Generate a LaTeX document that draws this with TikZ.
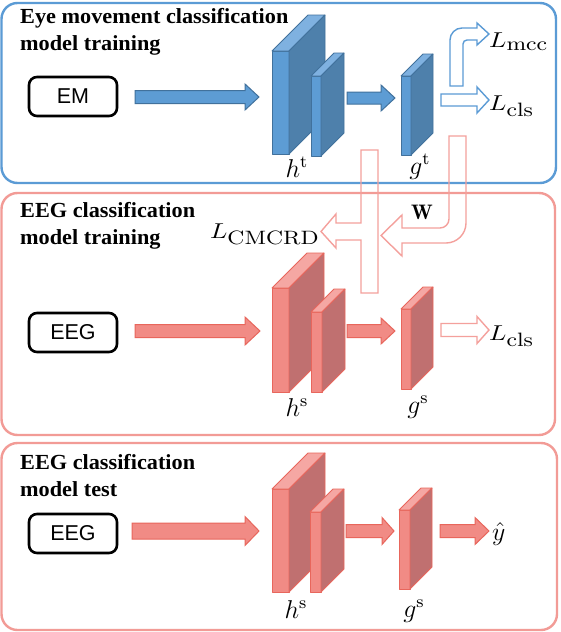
\documentclass[tikz,border=0pt]{standalone}
\usepackage{fontspec}
\usepackage{graphicx}
\newfontfamily\ttlfont{Liberation Serif}
\newfontfamily\boxfont{Liberation Sans}
\DeclareMathSizes{10}{10}{9}{7}
\DeclareMathSizes{12}{12}{8}{6}
\definecolor{bpanel}{RGB}{91,155,213}
\definecolor{ppanel}{RGB}{242,155,150}
\definecolor{bfront}{RGB}{93,156,212}
\definecolor{bside}{RGB}{78,128,171}
\definecolor{btop}{RGB}{127,177,224}
\definecolor{bedge}{RGB}{65,113,156}
\definecolor{pfront}{RGB}{241,139,133}
\definecolor{pside}{RGB}{192,112,112}
\definecolor{ptop}{RGB}{245,167,163}
\definecolor{pedge}{RGB}{232,102,92}
\definecolor{poutl}{RGB}{244,160,156}
\newcommand\cuboid[6]{%
  \draw[#1edge, fill=#1front, line width=0.8pt, line join=round] (#2,#4) rectangle (#3,#5);
  \draw[#1edge, fill=#1top, line width=0.8pt, line join=round] (#2,#4) -- ({#2+#6},{#4-#6}) -- ({#3+#6},{#4-#6}) -- (#3,#4) -- cycle;
  \draw[#1edge, fill=#1side, line width=0.8pt, line join=round] (#3,#4) -- ({#3+#6},{#4-#6}) -- ({#3+#6},{#5-#6}) -- (#3,#5) -- cycle;}
\newcommand\blkarrow[7]{%
  \draw[#1] (#2,{#5-#6}) -- (#3,{#5-#6}) -- (#3,{#5-#7}) -- (#4,#5) -- (#3,{#5+#7}) -- (#3,{#5+#6}) -- (#2,{#5+#6}) -- cycle;}
\newcommand\Lbl[1]{\scalebox{2.55}[2.15]{$#1$}}
\newcommand\Hbl[1]{\scalebox{2.15}{$#1$}}
\tikzset{
  panelB/.style={draw=bpanel, line width=2.4pt, rounded corners=16pt},
  panelP/.style={draw=ppanel, line width=2.4pt, rounded corners=16pt},
  inbox/.style={draw=black, line width=2.6pt, rounded corners=8pt, minimum width=88pt, minimum height=39pt, inner sep=0pt, font=\boxfont\fontsize{21.5}{21.5}\selectfont},
  ttl/.style={anchor=base west, inner sep=0pt, font=\ttlfont\bfseries\fontsize{21.5}{21.5}\selectfont},
  lab/.style={anchor=base, inner sep=0pt, font=\fontsize{12}{12}\selectfont},
  llab/.style={inner sep=0pt, font=\fontsize{10}{10}\selectfont},
  solB/.style={draw=bedge, fill=bfront, line width=1pt},
  solP/.style={draw=pedge, fill=pfront, line width=1pt},
  outB/.style={draw=bpanel, line width=1.4pt},
  outP/.style={draw=poutl, line width=1.4pt}
}
\begin{document}
\begin{tikzpicture}[x=1pt, y=-1pt]
\useasboundingbox (0,0) rectangle (560,632);
\fill[white] (0,0) rectangle (560,632);
% panels
\draw[panelB] (1.5,3) rectangle (556,183);
\draw[panelP] (1.5,193) rectangle (555,435);
\draw[panelP] (1.5,443) rectangle (557,630);
% titles
\node[ttl] (t1a) at (20,23) {\scalebox{1.035}[1]{Eye movement classification}};
\node[ttl] (t1b) at (20,50.5) {\scalebox{1.035}[1]{model training}};
\node[ttl] (t2a) at (20,217) {\scalebox{1.035}[1]{EEG classification}};
\node[ttl] (t2b) at (20,244) {\scalebox{1.035}[1]{model training}};
\node[ttl] (t3a) at (20,469) {\scalebox{1.035}[1]{EEG classification}};
\node[ttl] (t3b) at (20,496) {\scalebox{1.035}[1]{model test}};
% input boxes
\node[inbox] (em) at (73,96.5) {EM};
\node[inbox] (eeg1) at (73,332.5) {EEG};
\node[inbox] (eeg2) at (73,533.5) {EEG};
% panel 1
\blkarrow{solB}{135}{245}{259}{97}{6.5}{13}
\cuboid{b}{272}{289}{51}{154}{36}
\cuboid{b}{311}{321}{76}{156}{23}
\blkarrow{solB}{347}{381}{395}{98}{6}{13}
\cuboid{b}{401}{411}{76}{155}{22}
\blkarrow{outB}{441}{477}{489}{100}{6}{13}
\draw[outB] (463,86) -- (450,86) [rounded corners=12pt] -- (450,28) [sharp corners] -- (477,28) -- (477,23) -- (489,34) -- (477,45) -- (477,40) [rounded corners=4pt] -- (463,40) [sharp corners] -- cycle;
\node[lab] (ht) at (297,177) {\Hbl{h^{\mathrm{t}}}};
\node[lab] (gt) at (420,174) {\Hbl{g^{\mathrm{t}}}};
\node[llab, anchor=base west] (lmcc) at (489,47) {\Lbl{L_{\mathrm{mcc}}}};
\node[llab, anchor=base west] (lcls1) at (489,110) {\Lbl{L_{\mathrm{cls}}}};
% crossing arrows
\draw[outP] (361,150) -- (378,150) -- (378,293) -- (361,293) -- (361,240) -- (336,240) -- (336,248) -- (321,231.5) -- (336,214) -- (336,223) -- (361,223) -- cycle;
\draw[outP] (449,136) -- (466,136) [rounded corners=20pt] -- (466,243) [sharp corners] -- (402,243) -- (402,256) -- (381,235.5) -- (402,215) -- (402,228) [rounded corners=9pt] -- (449,228) [sharp corners] -- cycle;
\node[inner sep=0pt, font=\fontsize{12}{12}\selectfont] (w) at (422,212) {\scalebox{1.75}{$\mathbf{W}$}};
\node[llab, anchor=base east] (lcmcrd) at (320,238) {\Lbl{L_{\mathrm{CMCRD}}}};
% panel 2
\blkarrow{solP}{135}{245}{260}{331}{6.5}{14}
\cuboid{p}{272}{289}{288}{392}{35}
\cuboid{p}{311}{322}{312}{392}{23}
\blkarrow{solP}{347}{381}{395}{331}{6.5}{13}
\cuboid{p}{401}{411}{309}{389}{22}
\blkarrow{outP}{441}{477}{489}{330}{6.5}{13.5}
\node[lab] (hs1) at (297,416) {\Hbl{h^{\mathrm{s}}}};
\node[lab] (gs1) at (418,413) {\Hbl{g^{\mathrm{s}}}};
\node[llab, anchor=base west] (lcls2) at (489,340) {\Lbl{L_{\mathrm{cls}}}};
% panel 3
\blkarrow{solP}{132}{245}{259}{531}{8}{14.5}
\cuboid{p}{272}{289}{489}{592}{36}
\cuboid{p}{310}{321}{512}{592}{23}
\blkarrow{solP}{346}{382}{394}{531}{6.5}{13.5}
\cuboid{p}{399}{410}{510}{589}{22}
\blkarrow{solP}{440}{475}{489}{531}{6.5}{13.5}
\node[lab] (hs2) at (296,618) {\Hbl{h^{\mathrm{s}}}};
\node[lab] (gs2) at (414,617) {\Hbl{g^{\mathrm{s}}}};
\node[lab, anchor=base west] (yhat) at (492,540) {\Hbl{\hat{y}}};
\end{tikzpicture}
\end{document}
